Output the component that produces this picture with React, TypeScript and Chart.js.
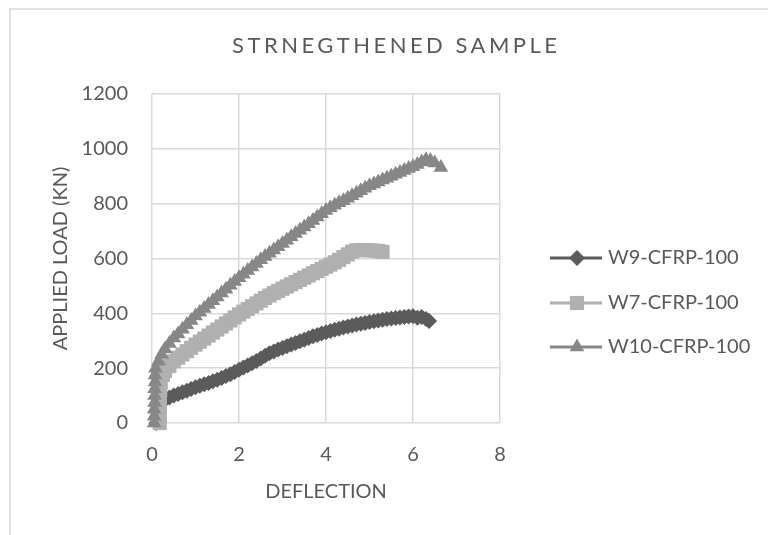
import React, { useEffect, useRef } from 'react';
import { Chart, registerables } from 'chart.js';

Chart.register(...registerables);

const TITLE = 'STRNEGTHENED SAMPLE';
const X_TITLE = 'DEFLECTION';
const Y_TITLE = 'APPLIED LOAD (KN)';
const SERIES_NAMES = ['W9-CFRP-100', 'W7-CFRP-100', 'W10-CFRP-100'];
const SERIES_COLORS = ['#5b5b5b', '#b0b0b0', '#878787'];
const SERIES_MARKERS = ['rectRot', 'rect', 'triangle'];
const X_MIN = 0;
const X_MAX = 8;
const X_STEP = 2;
const Y_MIN = 0;
const Y_MAX = 1200;
const Y_STEP = 200;

// W9-CFRP-100
const w9X = [0.1, 0.12, 0.14, 0.16, 0.2, 0.3, 0.4, 0.5, 0.6, 0.7, 0.8, 0.9, 1.0, 1.1, 1.2, 1.3, 1.4, 1.5, 1.6, 1.7, 1.8, 1.9, 2.0, 2.1, 2.2, 2.3, 2.4, 2.5, 2.6, 2.7, 2.8, 2.9, 3.0, 3.1, 3.2, 3.3, 3.4, 3.5, 3.6, 3.7, 3.8, 3.9, 4.0, 4.1, 4.2, 4.3, 4.4, 4.5, 4.6, 4.7, 4.8, 4.9, 5.0, 5.1, 5.2, 5.3, 5.4, 5.5, 5.6, 5.7, 5.8, 5.9, 6.0, 6.1, 6.2, 6.3, 6.37];
const w9Y = [0, 20, 40, 60, 77, 85, 93, 100, 106, 112, 118, 124, 130, 136, 141, 146, 152, 158, 164, 171, 178, 186, 194, 202, 210, 218, 226, 235, 245, 254, 261, 268, 274, 280, 286, 292, 298, 304, 310, 316, 321, 326, 331, 336, 340, 344, 348, 352, 356, 359, 362, 365, 368, 371, 374, 377, 379, 381, 383, 385, 387, 388, 389, 384, 387, 379, 372];

// W7-CFRP-100
const w7X = [0.18, 0.18, 0.18, 0.18, 0.19, 0.2, 0.25, 0.3, 0.4, 0.5, 0.6, 0.7, 0.8, 0.9, 1.0, 1.1, 1.2, 1.3, 1.4, 1.5, 1.6, 1.7, 1.8, 1.9, 2.0, 2.1, 2.2, 2.3, 2.4, 2.5, 2.6, 2.7, 2.8, 2.9, 3.0, 3.1, 3.2, 3.3, 3.4, 3.5, 3.6, 3.7, 3.8, 3.9, 4.0, 4.1, 4.2, 4.3, 4.4, 4.5, 4.6, 4.7, 4.8, 4.9, 5.0, 5.1, 5.2, 5.3];
const w7Y = [0, 30, 60, 90, 120, 150, 175, 190, 208, 225, 238, 250, 262, 274, 286, 297, 308, 319, 330, 341, 352, 363, 374, 385, 396, 406, 416, 426, 436, 446, 456, 465, 474, 482, 490, 498, 506, 514, 522, 530, 538, 546, 554, 562, 570, 578, 586, 595, 605, 615, 625, 630, 631, 631, 630, 629, 627, 624];

// W10-CFRP-100
const w10X = [0.05, 0.05, 0.05, 0.06, 0.06, 0.06, 0.07, 0.07, 0.08, 0.15, 0.22, 0.3, 0.4, 0.5, 0.6, 0.7, 0.8, 0.9, 1.0, 1.1, 1.2, 1.3, 1.4, 1.5, 1.6, 1.7, 1.8, 1.9, 2.0, 2.1, 2.2, 2.3, 2.4, 2.5, 2.6, 2.7, 2.8, 2.9, 3.0, 3.1, 3.2, 3.3, 3.4, 3.5, 3.6, 3.7, 3.8, 3.9, 4.0, 4.1, 4.2, 4.3, 4.4, 4.5, 4.6, 4.7, 4.8, 4.9, 5.0, 5.1, 5.2, 5.3, 5.4, 5.5, 5.6, 5.7, 5.8, 5.9, 6.0, 6.1, 6.2, 6.3, 6.4, 6.5, 6.64];
const w10Y = [0, 25, 50, 75, 100, 125, 150, 175, 200, 225, 250, 270, 290, 310, 325, 342, 358, 374, 390, 404, 418, 432, 446, 460, 474, 488, 502, 516, 530, 543, 556, 569, 582, 595, 607, 619, 631, 643, 655, 667, 679, 691, 703, 715, 727, 739, 751, 763, 775, 785, 794, 803, 811, 820, 829, 838, 847, 856, 865, 872, 879, 886, 893, 900, 907, 914, 921, 928, 935, 943, 952, 960, 957, 948, 932];

const SERIES_X = [w9X, w7X, w10X];
const SERIES_Y = [w9Y, w7Y, w10Y];

const TEXT_COLOR = '#595959';
const GRID_COLOR = '#d9d9d9';
const FONT = 'Lato';

function markerPath(ctx: CanvasRenderingContext2D, style: string, x: number, y: number, r: number) {
  ctx.beginPath();
  if (style === 'rectRot') {
    ctx.moveTo(x - r, y);
    ctx.lineTo(x, y - r);
    ctx.lineTo(x + r, y);
    ctx.lineTo(x, y + r);
  } else if (style === 'rect') {
    const s = Math.SQRT1_2 * r;
    ctx.rect(x - s, y - s, 2 * s, 2 * s);
  } else {
    let rad = 0;
    ctx.moveTo(x + Math.sin(rad) * r, y - Math.cos(rad) * r);
    rad += (2 * Math.PI) / 3;
    ctx.lineTo(x + Math.sin(rad) * r, y - Math.cos(rad) * r);
    rad += (2 * Math.PI) / 3;
    ctx.lineTo(x + Math.sin(rad) * r, y - Math.cos(rad) * r);
  }
  ctx.closePath();
}

const RADII = [8, 10, 8.5];

const decorPlugin = {
  id: 'decor',
  beforeDraw(chart: any) {
    const ctx: CanvasRenderingContext2D = chart.ctx;
    ctx.save();
    ctx.fillStyle = '#ffffff';
    ctx.fillRect(0, 0, chart.width, chart.height);
    ctx.strokeStyle = GRID_COLOR;
    ctx.lineWidth = 1.5;
    ctx.beginPath();
    ctx.moveTo(10, chart.height + 10);
    ctx.lineTo(10, 9);
    ctx.lineTo(chart.width + 10, 9);
    ctx.stroke();
    ctx.restore();
  },
  afterDraw(chart: any) {
    const ctx: CanvasRenderingContext2D = chart.ctx;
    const area = chart.chartArea;
    ctx.save();
    ctx.fillStyle = TEXT_COLOR;

    // title with letter spacing
    ctx.font = `22px ${FONT}`;
    ctx.textBaseline = 'alphabetic';
    ctx.textAlign = 'left';
    const targetW = 325;
    (ctx as any).letterSpacing = '0px';
    const w0 = ctx.measureText(TITLE).width;
    const spacing = (targetW - w0) / (TITLE.length - 1);
    (ctx as any).letterSpacing = `${spacing}px`;
    ctx.fillText(TITLE, 394.5 - targetW / 2, 53);
    (ctx as any).letterSpacing = '0px';

    // x axis title
    ctx.font = `20px ${FONT}`;
    ctx.textAlign = 'center';
    ctx.textBaseline = 'middle';
    ctx.fillText(X_TITLE, (area.left + area.right) / 2, 492);

    // y axis title
    ctx.save();
    ctx.translate(61, (area.top + area.bottom) / 2);
    ctx.rotate(-Math.PI / 2);
    ctx.fillText(Y_TITLE, 0, 0);
    ctx.restore();

    // legend
    const rows = [258, 303, 347];
    SERIES_NAMES.forEach((name, i) => {
      const cy = rows[i];
      ctx.strokeStyle = SERIES_COLORS[i];
      ctx.lineWidth = 3;
      ctx.beginPath();
      ctx.moveTo(550, cy);
      ctx.lineTo(602, cy);
      ctx.stroke();
      ctx.fillStyle = SERIES_COLORS[i];
      markerPath(ctx, SERIES_MARKERS[i], 577, cy, RADII[i]);
      ctx.fill();
      ctx.fillStyle = TEXT_COLOR;
      ctx.textAlign = 'left';
      ctx.textBaseline = 'middle';
      ctx.font = `20px ${FONT}`;
      ctx.fillText(name, 608, cy);
    });
    ctx.restore();
  },
};

export default function App() {
  const ref = useRef<HTMLCanvasElement | null>(null);
  useEffect(() => {
    if (!ref.current) return;
    const datasets = SERIES_NAMES.map((name, i) => ({
      label: name,
      data: SERIES_X[i].map((x, j) => ({ x, y: SERIES_Y[i][j] })),
      borderColor: SERIES_COLORS[i],
      backgroundColor: SERIES_COLORS[i],
      borderWidth: 3,
      pointStyle: SERIES_MARKERS[i],
      pointRadius: RADII[i],
      pointBorderWidth: 0,
      pointBackgroundColor: SERIES_COLORS[i],
      pointBorderColor: SERIES_COLORS[i],
      tension: 0,
      clip: false as any,
      order: 3 - i,
    }));
    const chart = new Chart(ref.current, {
      type: 'line',
      data: { datasets },
      plugins: [decorPlugin],
      options: {
        animation: false,
        responsive: false,
        maintainAspectRatio: false,
        layout: { padding: { top: 94, right: 268, left: 0, bottom: 0 } },
        plugins: {
          legend: { display: false },
          title: { display: false },
          tooltip: { enabled: false },
        },
        scales: {
          x: {
            type: 'linear',
            min: X_MIN,
            max: X_MAX,
            ticks: {
              stepSize: X_STEP,
              color: TEXT_COLOR,
              font: { family: FONT, size: 20 },
              padding: 20,
              maxRotation: 0,
              callback: (v: any) => String(v),
            },
            grid: { color: GRID_COLOR, lineWidth: 1.5, drawTicks: false },
            border: { display: false },
            afterFit: (s: any) => { s.height = 112; },
          },
          y: {
            type: 'linear',
            min: Y_MIN,
            max: Y_MAX,
            ticks: {
              stepSize: Y_STEP,
              color: TEXT_COLOR,
              font: { family: FONT, size: 20 },
              padding: 24,
              callback: (v: any) => String(v),
            },
            grid: { color: GRID_COLOR, lineWidth: 1.5, drawTicks: false },
            border: { display: false },
            afterFit: (s: any) => { s.width = 152; },
          },
        },
      },
    });
    return () => chart.destroy();
  }, []);
  return (
    <div style={{ position: 'fixed', left: 0, top: 0, width: 768, height: 535 }}>
      <canvas ref={ref} width={768} height={535} style={{ display: 'block' }} />
    </div>
  );
}
